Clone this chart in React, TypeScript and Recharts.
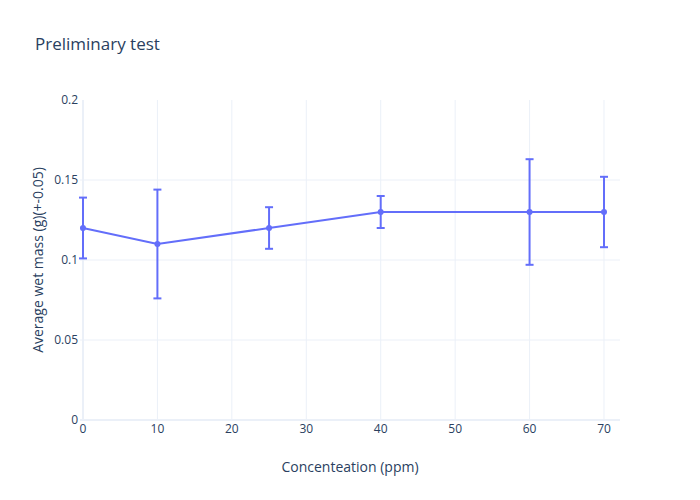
import React from 'react';
import { LineChart, Line, XAxis, YAxis, CartesianGrid, ErrorBar, ReferenceLine } from 'recharts';

const concentrations = [0, 10, 25, 40, 60, 70];
const wetMass = [0.12, 0.11, 0.12, 0.13, 0.13, 0.13];
const errors = [0.019, 0.034, 0.013, 0.01, 0.033, 0.022];
const xTicks = [0, 10, 20, 30, 40, 50, 60, 70];
const yTicks = [0, 0.05, 0.1, 0.15, 0.2];

const data = concentrations.map((c, i) => ({ x: c, y: wetMass[i], err: errors[i] }));
const xGrid = xTicks.filter((t) => t !== 0);
const yGrid = yTicks.filter((t) => t !== 0 && t !== 0.2);

const FONT = '"Open Sans", verdana, arial, sans-serif';
const TEXT = '#2a3f5f';
const GRID = '#ebf0f8';
const COLOR = '#636efa';

export default function App() {
  return (
    <div style={{ position: 'absolute', left: 0, top: 0, width: 700, height: 500, background: '#fff' }}>
      <LineChart width={700} height={500} data={data} margin={{ top: 100, right: 80, bottom: 0, left: 0 }}>
        <CartesianGrid stroke={GRID} strokeWidth={1} horizontalValues={yGrid} verticalValues={xGrid} />
        <XAxis
          dataKey="x"
          type="number"
          domain={[-0.4, 72.15]}
          ticks={xTicks}
          allowDataOverflow
          axisLine={false}
          tickLine={false}
          tickSize={0}
          tickMargin={4}
          height={80}
          tick={{ fill: TEXT, fontSize: 12, fontFamily: FONT }}
        />
        <YAxis
          type="number"
          domain={[0, 0.2]}
          ticks={yTicks}
          allowDataOverflow
          axisLine={false}
          tickLine={false}
          tickSize={0}
          tickMargin={2}
          width={80}
          tick={{ fill: TEXT, fontSize: 12, fontFamily: FONT }}
        />
        <ReferenceLine x={0} stroke={GRID} strokeWidth={2} />
        <ReferenceLine y={0} stroke={GRID} strokeWidth={2} />
        <Line
          dataKey="y"
          stroke={COLOR}
          strokeWidth={2}
          dot={{ r: 3, fill: COLOR, stroke: COLOR, strokeWidth: 0 }}
          activeDot={false}
          isAnimationActive={false}
        >
          <ErrorBar dataKey="err" direction="y" width={4} stroke={COLOR} strokeWidth={2} isAnimationActive={false} />
        </Line>
      </LineChart>
      <svg width={700} height={500} style={{ position: 'absolute', left: 0, top: 0, pointerEvents: 'none' }}>
        <text x={35} y={50} fontFamily={FONT} fontSize={17} fill={TEXT}>Preliminary test</text>
        <text x={350} y={472} textAnchor="middle" fontFamily={FONT} fontSize={14} fill={TEXT}>Concenteation (ppm)</text>
        <text
          x={0}
          y={0}
          transform="translate(43,260) rotate(-90)"
          textAnchor="middle"
          fontFamily={FONT}
          fontSize={14}
          fill={TEXT}
        >
          Average wet mass (g)(+-0.05)
        </text>
      </svg>
    </div>
  );
}
